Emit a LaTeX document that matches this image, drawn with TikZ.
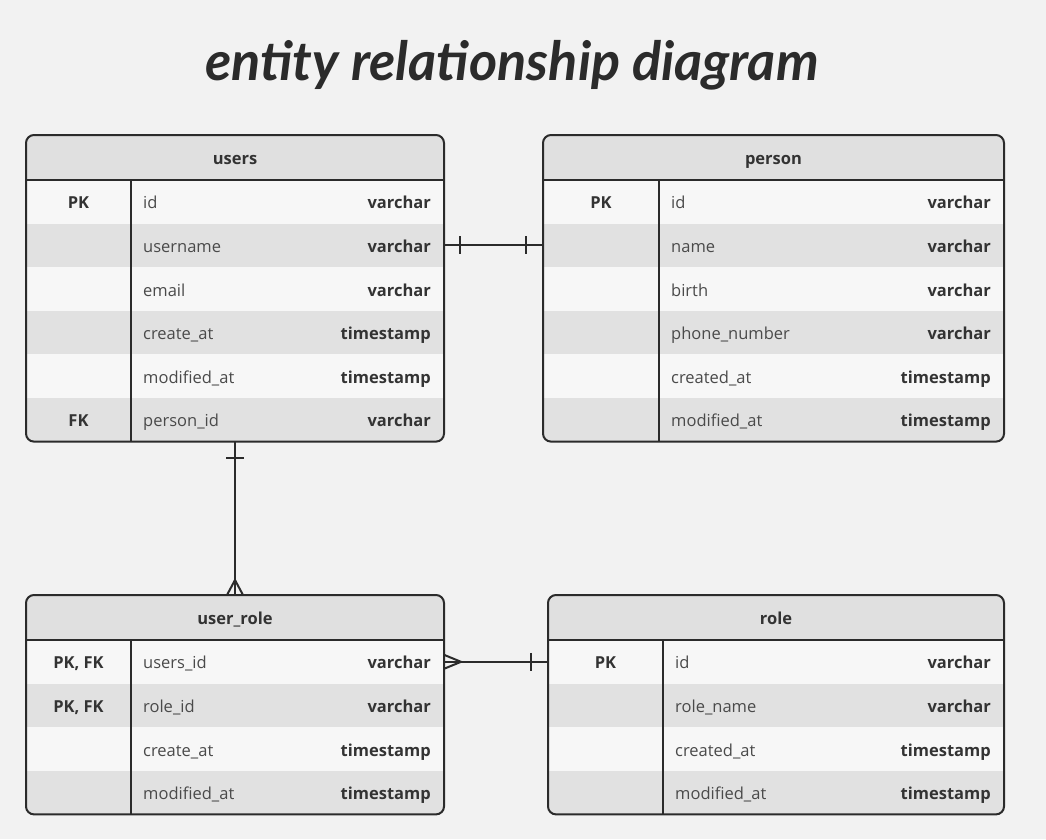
\documentclass[tikz,border=0pt]{standalone}
\usepackage{fontspec}
\setmainfont{Open Sans}
\newfontfamily\titlefont{Lato}
\usetikzlibrary{calc}
\definecolor{bg}{HTML}{F2F2F2}
\definecolor{hdrgray}{HTML}{E0E0E0}
\definecolor{rowlight}{HTML}{F7F7F7}
\definecolor{rowgray}{HTML}{E1E1E1}
\definecolor{ink}{HTML}{2B2B2B}
\definecolor{txt}{HTML}{333333}
\definecolor{ftxt}{HTML}{4A4A4A}
\tikzset{
  hdr/.style={fill=hdrgray, draw=none, minimum height=45, anchor=north west, inner sep=0, outer sep=0},
  rowbox/.style={draw=none, minimum height=43.6, anchor=north west, inner sep=0, outer sep=0},
  frame/.style={draw=ink, line width=2, rounded corners=8, anchor=north west, inner sep=0, outer sep=0},
  tx/.style={font=\fontsize{16.5}{18}\selectfont, inner sep=0, text height=12, text depth=4},
  hdrtext/.style={tx, font=\fontsize{16.5}{18}\selectfont\bfseries, text=txt},
  keyt/.style={tx, font=\fontsize{16.5}{18}\selectfont\bfseries, text=txt},
  fieldt/.style={tx, text=ftxt, anchor=west},
  typet/.style={tx, font=\fontsize{16.5}{18}\selectfont\bfseries, text=txt, anchor=east},
  grid/.style={draw=ink, line width=2},
  conn/.style={draw=ink, line width=2},
}
% #1 id, #2 x, #3 y, #4 width, #5 divider offset, #6 title, #7 number of rows, #8 rows
\newcommand\ertable[8]{%
  \begin{scope}
    \clip[rounded corners=8] (#2,#3) rectangle ++(#4,45+#7*43.6);
    \node[hdr, minimum width=#4] (#1-h) at (#2,#3) {};
    \foreach \k/\f/\t [count=\i] in {#8} {
      \ifodd\i \def\rc{rowlight}\else\def\rc{rowgray}\fi
      \node[rowbox, fill=\rc, minimum width=#4] (#1-\i) at (#2,{#3+45+(\i-1)*43.6}) {};
    }
  \end{scope}
  \node[hdrtext] (#1-ht) at ($(#1-h.center)+(0,3)$) {#6};
  \foreach \k/\f/\t [count=\i] in {#8} {
    \node[keyt] (#1-\i-k) at ($(#1-\i.west)+(#5/2,3)$) {\k};
    \node[fieldt] (#1-\i-f) at ($(#1-\i.west)+(#5+12,3)$) {\f};
    \node[typet] (#1-\i-t) at ($(#1-\i.east)+(-13,3)$) {\t};
  }
  \draw[grid] (#1-h.south west) -- (#1-h.south east);
  \draw[grid] ($(#1-h.south west)+(#5,0)$) -- ($(#1-#7.south west)+(#5,0)$);
  \node[frame, minimum width=#4, minimum height=45+#7*43.6] (#1) at (#2,#3) {};
}
\begin{document}
\begin{tikzpicture}[x=1pt,y=-1pt]
\fill[bg] (0,0) rectangle (1046,839);
\useasboundingbox (0,0) rectangle (1046,839);

\node[font=\titlefont\fontsize{54}{60}\selectfont\bfseries\itshape, text=ink] (title) at (512,65) {entity relationship diagram};

\ertable{users}{26}{135}{418}{105}{users}{6}{PK/id/varchar, /username/varchar, /email/varchar, /create\_at/timestamp, /modified\_at/timestamp, FK/person\_id/varchar}
\ertable{person}{543}{135}{461}{116}{person}{6}{PK/id/varchar, /name/varchar, /birth/varchar, /phone\_number/varchar, /created\_at/timestamp, /modified\_at/timestamp}
\ertable{ur}{26}{595}{418}{105}{user\_role}{4}{{PK, FK}/users\_id/varchar, {PK, FK}/role\_id/varchar, /create\_at/timestamp, /modified\_at/timestamp}
\ertable{role}{548}{595}{456}{115}{role}{4}{PK/id/varchar, /role\_name/varchar, /created\_at/timestamp, /modified\_at/timestamp}

% users -- person (one to one)
\draw[conn] (users-2.east) -- (person-2.west);
\draw[conn] ($(users-2.east)+(16,-9)$) -- ($(users-2.east)+(16,9)$);
\draw[conn] ($(person-2.west)+(-17,-9)$) -- ($(person-2.west)+(-17,9)$);

% users -- user_role (one to many)
\draw[conn] (users.south) -- (ur.north);
\draw[conn] ($(users.south)+(-9,16)$) -- ($(users.south)+(9,16)$);
\draw[conn] ($(ur.north)+(-8,0)$) -- ($(ur.north)+(0,-15)$) -- ($(ur.north)+(8,0)$);

% user_role -- role (many to one)
\draw[conn] (ur-1.east) -- (role-1.west);
\draw[conn] ($(ur-1.east)+(0,-7)$) -- ($(ur-1.east)+(17,0)$) -- ($(ur-1.east)+(0,7)$);
\draw[conn] ($(role-1.west)+(-17,-9)$) -- ($(role-1.west)+(-17,9)$);
\end{tikzpicture}
\end{document}
